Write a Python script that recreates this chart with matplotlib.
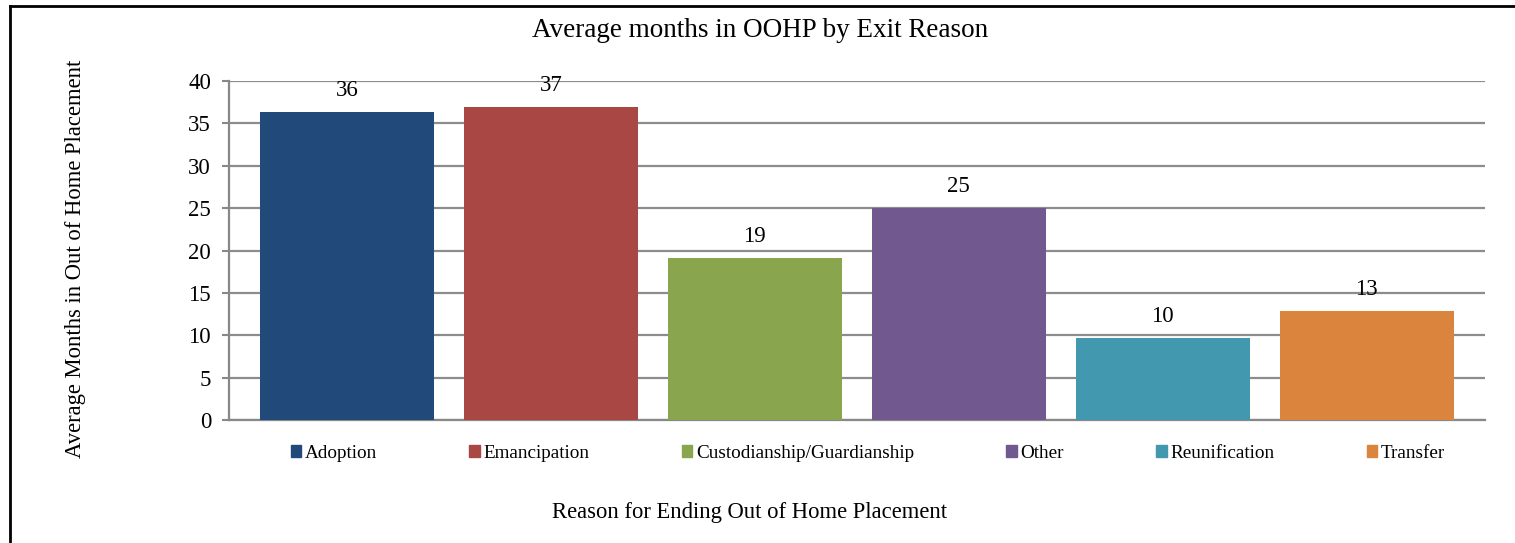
import matplotlib.pyplot as plt
from matplotlib.lines import Line2D

reasons = ["Adoption", "Emancipation", "Custodianship/Guardianship", "Other", "Reunification", "Transfer"]
months = [36.3, 36.9, 19.1, 25.0, 9.7, 12.9]
labels = ["36", "37", "19", "25", "10", "13"]
colors = ["#214A7B", "#A94744", "#89A54E", "#71588F", "#4298AF", "#DB843D"]

plt.rcParams["font.family"] = ["Liberation Serif", "DejaVu Serif"]

fig = plt.figure(figsize=(15.15, 5.43), dpi=100)
ax = fig.add_axes([0.1512, 0.2265, 0.8290, 0.6243])

x = range(len(reasons))
bars = ax.bar(x, months, width=0.853, color=colors, zorder=3)
for b, lab in zip(bars, labels):
    ax.annotate(lab, (b.get_x() + b.get_width() / 2, b.get_height()),
                xytext=(0, 8), textcoords="offset points",
                ha="center", va="bottom", fontsize=16.5)

ax.set_xlim(-0.579, 5.581)
ax.set_ylim(0, 40)
ax.set_yticks(range(0, 41, 5))
ax.set_xticks([])
ax.tick_params(axis="y", labelsize=16.5, length=5, width=1.5, color="#888888", pad=8)
ax.grid(axis="y", color="#8c8c8c", linewidth=1.6, zorder=0)
for s in ["top", "right"]:
    ax.spines[s].set_visible(False)
for s in ["left", "bottom"]:
    ax.spines[s].set_color("#888888")
    ax.spines[s].set_linewidth(1.6)

fig.text(0.502, 0.944, "Average months in OOHP by Exit Reason", ha="center", va="center", fontsize=19.5)
fig.text(0.050, 0.524, "Average Months in Out of Home Placement", ha="center", va="center",
         rotation=90, fontsize=16.3)
fig.text(0.495, 0.057, "Reason for Ending Out of Home Placement", ha="center", va="center", fontsize=16.3)

handles = [plt.Rectangle((0, 0), 1, 1, color=c) for c in colors]
fig.legend(handles, reasons, ncol=6, loc="center", bbox_to_anchor=(0.573, 0.165),
           frameon=False, fontsize=13.8, handlelength=0.55, handleheight=0.55,
           handletextpad=0.2, columnspacing=4.8)

# outer border (left and top edges visible)
fig.add_artist(Line2D([0.0066, 0.0066], [0, 0.989], color="black", linewidth=2, transform=fig.transFigure))
fig.add_artist(Line2D([0.0066, 1], [0.989, 0.989], color="black", linewidth=2, transform=fig.transFigure))

fig.savefig("out.png", dpi=100)
